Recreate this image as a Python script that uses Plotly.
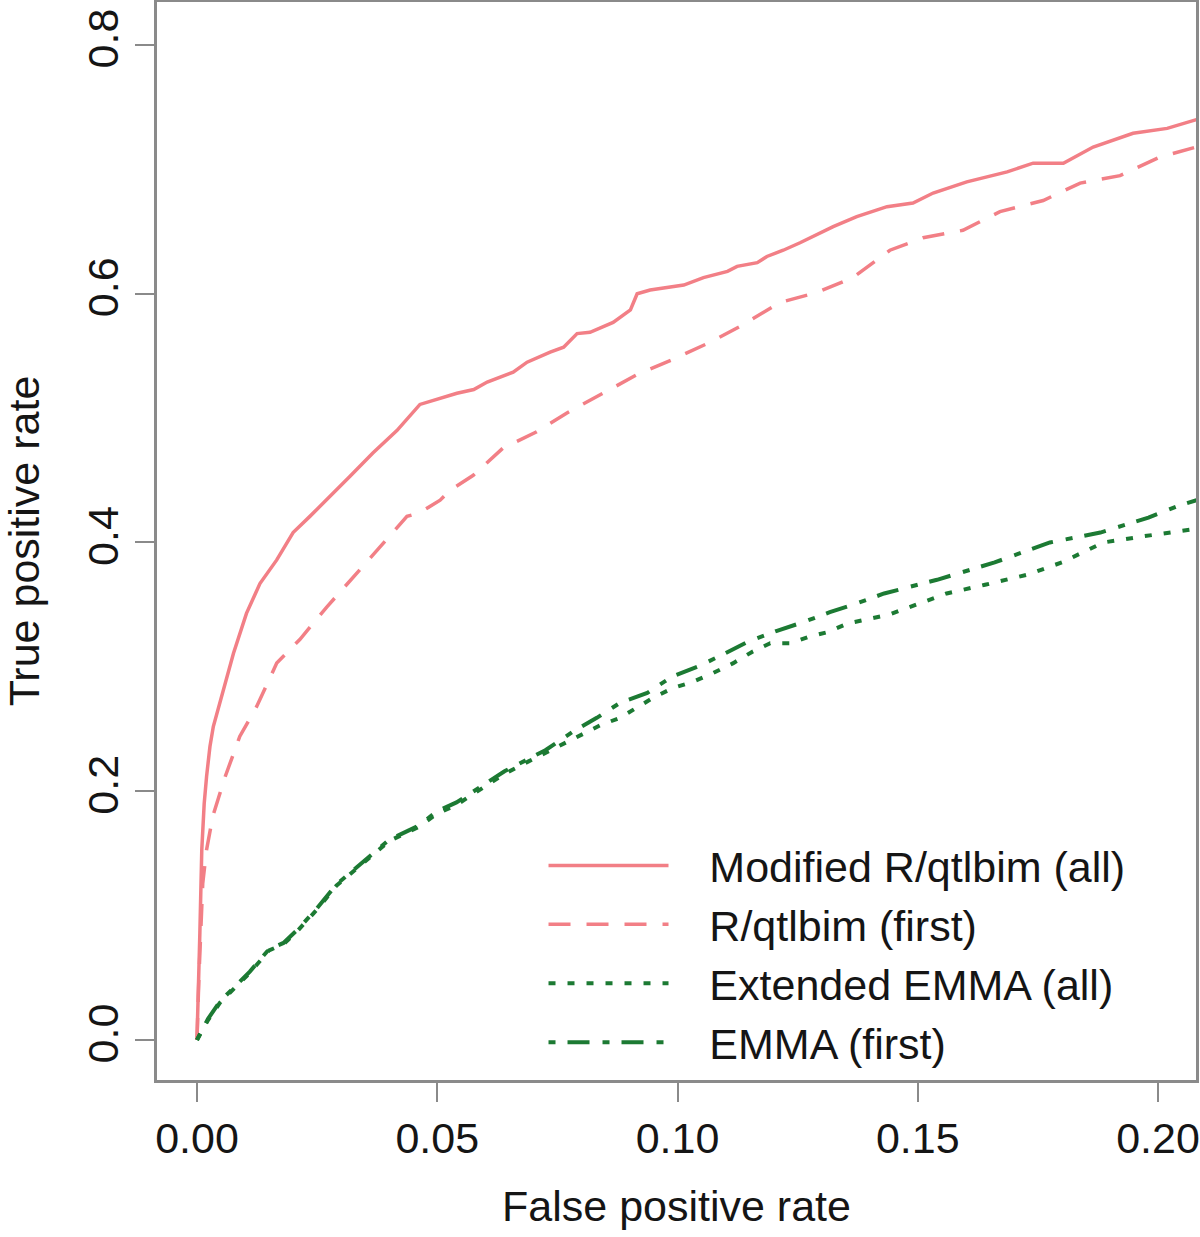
import plotly.graph_objects as go

# ---- data ----
mod_all_fpr = [0, 0.0002, 0.0006, 0.0010, 0.0015, 0.0020, 0.0027, 0.0034, 0.0055, 0.0076, 0.0103, 0.0131,
               0.0166, 0.0200, 0.0235, 0.0277, 0.0318, 0.0366, 0.0416, 0.0464, 0.0506, 0.0541, 0.0576,
               0.0604, 0.0658, 0.0687, 0.0735, 0.0763, 0.0791, 0.0818, 0.0866, 0.0902, 0.0916, 0.0943,
               0.1013, 0.1054, 0.1104, 0.1124, 0.1166, 0.1186, 0.1220, 0.1255, 0.1324, 0.1373, 0.1436,
               0.1490, 0.1532, 0.1602, 0.1686, 0.1740, 0.1803, 0.1865, 0.1948, 0.2019, 0.2080]
mod_all_tpr = [0, 0.040, 0.086, 0.153, 0.190, 0.212, 0.236, 0.252, 0.281, 0.311, 0.343, 0.367,
               0.386, 0.408, 0.421, 0.437, 0.453, 0.472, 0.490, 0.511, 0.516, 0.520, 0.523,
               0.529, 0.537, 0.545, 0.553, 0.557, 0.568, 0.569, 0.577, 0.587, 0.600, 0.603,
               0.607, 0.613, 0.618, 0.622, 0.625, 0.630, 0.635, 0.641, 0.654, 0.662, 0.670,
               0.673, 0.681, 0.690, 0.698, 0.705, 0.705, 0.718, 0.729, 0.733, 0.740]

qtl_first_fpr = [0, 0.0004, 0.0012, 0.0020, 0.0033, 0.0058, 0.0089, 0.0124, 0.0166, 0.0214, 0.0270,
                 0.0332, 0.0388, 0.0437, 0.0464, 0.0506, 0.0527, 0.0575, 0.0637, 0.0707, 0.0769,
                 0.0839, 0.0916, 0.0989, 0.1068, 0.1136, 0.1213, 0.1290, 0.1365, 0.1442, 0.1511,
                 0.1594, 0.1671, 0.1761, 0.1838, 0.1921, 0.2004, 0.2080]
qtl_first_tpr = [0, 0.050, 0.126, 0.153, 0.180, 0.211, 0.244, 0.268, 0.303, 0.322, 0.348,
                 0.375, 0.400, 0.421, 0.424, 0.434, 0.442, 0.454, 0.476, 0.489, 0.504,
                 0.519, 0.535, 0.547, 0.561, 0.575, 0.593, 0.601, 0.613, 0.635, 0.645,
                 0.651, 0.666, 0.675, 0.689, 0.695, 0.710, 0.718]

ext_emma_fpr = [0, 0.0023, 0.0048, 0.0075, 0.0110, 0.0150, 0.0180, 0.0210, 0.0250, 0.0290, 0.0330,
                0.0360, 0.0400, 0.0460, 0.0500, 0.0540, 0.0580, 0.0640, 0.0690, 0.0730, 0.0839,
                0.0880, 0.0918, 0.0953, 0.0991, 0.1032, 0.1074, 0.1116, 0.1155, 0.1193, 0.1234,
                0.1272, 0.1313, 0.1355, 0.1440, 0.1560, 0.1640, 0.1727, 0.1800, 0.1886, 0.1970, 0.2080]
ext_emma_tpr = [0, 0.016, 0.030, 0.040, 0.054, 0.072, 0.077, 0.088, 0.105, 0.124, 0.137,
                0.147, 0.160, 0.171, 0.182, 0.189, 0.199, 0.214, 0.224, 0.232, 0.253,
                0.259, 0.268, 0.276, 0.283, 0.288, 0.295, 0.303, 0.312, 0.319, 0.319,
                0.324, 0.328, 0.335, 0.342, 0.359, 0.366, 0.374, 0.384, 0.400, 0.405, 0.411]

emma_first_fpr = [0, 0.0023, 0.0048, 0.0075, 0.0110, 0.0150, 0.0180, 0.0210, 0.0250, 0.0290, 0.0330,
                  0.0360, 0.0400, 0.0460, 0.0500, 0.0540, 0.0580, 0.0640, 0.0690, 0.0725, 0.0783,
                  0.0832, 0.0880, 0.0937, 0.0988, 0.1041, 0.1095, 0.1151, 0.1207, 0.1262, 0.1317,
                  0.1373, 0.1430, 0.1540, 0.1660, 0.1775, 0.1880, 0.1980, 0.2046, 0.2080]
emma_first_tpr = [0, 0.017, 0.031, 0.041, 0.055, 0.073, 0.078, 0.089, 0.106, 0.125, 0.138,
                  0.148, 0.161, 0.172, 0.184, 0.191, 0.201, 0.216, 0.226, 0.233, 0.248,
                  0.259, 0.271, 0.279, 0.292, 0.300, 0.310, 0.321, 0.329, 0.336, 0.344,
                  0.351, 0.359, 0.370, 0.384, 0.400, 0.408, 0.420, 0.430, 0.434]

series_names = ["Modified R/qtlbim (all)", "R/qtlbim (first)", "Extended EMMA (all)", "EMMA (first)"]
x_tickvals = [0, 0.05, 0.10, 0.15, 0.20]
x_ticktext = ["0.00", "0.05", "0.10", "0.15", "0.20"]
y_tickvals = [0, 0.2, 0.4, 0.6, 0.8]
y_ticktext = ["0.0", "0.2", "0.4", "0.6", "0.8"]

RED = "#F27F86"
GREEN = "#1C7A33"
FONT = "Liberation Sans, Arial, sans-serif"
AXC = "#8a8a8a"
TXT = "#151515"
PAD = "\u00a0\u00a0\u00a0"  # gap between legend line and label

fig = go.Figure()
fig.add_trace(go.Scatter(x=mod_all_fpr, y=mod_all_tpr, mode="lines", name=PAD + series_names[0],
                         line=dict(color=RED, width=3.5)))
fig.add_trace(go.Scatter(x=qtl_first_fpr, y=qtl_first_tpr, mode="lines", name=PAD + series_names[1],
                         line=dict(color=RED, width=3.5, dash="22px,16px")))
fig.add_trace(go.Scatter(x=ext_emma_fpr, y=ext_emma_tpr, mode="lines", name=PAD + series_names[2],
                         line=dict(color=GREEN, width=4, dash="7px,12px")))
fig.add_trace(go.Scatter(x=emma_first_fpr, y=emma_first_tpr, mode="lines", name=PAD + series_names[3],
                         line=dict(color=GREEN, width=4, dash="7px,12px,22px,13px")))

fig.update_layout(
    width=1200, height=1237,
    margin=dict(l=157, r=4, t=2, b=157, autoexpand=False),
    paper_bgcolor="white", plot_bgcolor="white",
    font=dict(family=FONT, size=43, color=TXT),
    showlegend=True,
    legend=dict(x=0.372, y=0.231, xanchor="left", yanchor="top",
                bgcolor="rgba(0,0,0,0)", borderwidth=0, itemwidth=120,
                font=dict(family=FONT, size=43, color=TXT), tracegroupgap=0),
    xaxis=dict(range=[-0.00832, 0.2079], tickvals=x_tickvals, ticktext=x_ticktext,
               showgrid=False, zeroline=False, showline=True, mirror=True,
               linecolor=AXC, linewidth=2.5, ticks="outside", ticklen=19, tickwidth=2,
               tickcolor=AXC, automargin=False,
               title=dict(text="False positive rate", standoff=30,
                          font=dict(family=FONT, size=43, color=TXT))),
    yaxis=dict(range=[-0.0322, 0.8346], tickvals=y_tickvals, ticktext=y_ticktext,
               tickangle=-90, showgrid=False, zeroline=False, showline=True, mirror=True,
               linecolor=AXC, linewidth=2.5, ticks="outside", ticklen=19, tickwidth=2,
               tickcolor=AXC, automargin=False,
               title=dict(text="True positive rate", standoff=30,
                          font=dict(family=FONT, size=43, color=TXT))),
)

fig.write_html("out.html", config={"displayModeBar": False},
               post_script="document.body.style.margin='0';document.body.style.overflow='hidden';")
